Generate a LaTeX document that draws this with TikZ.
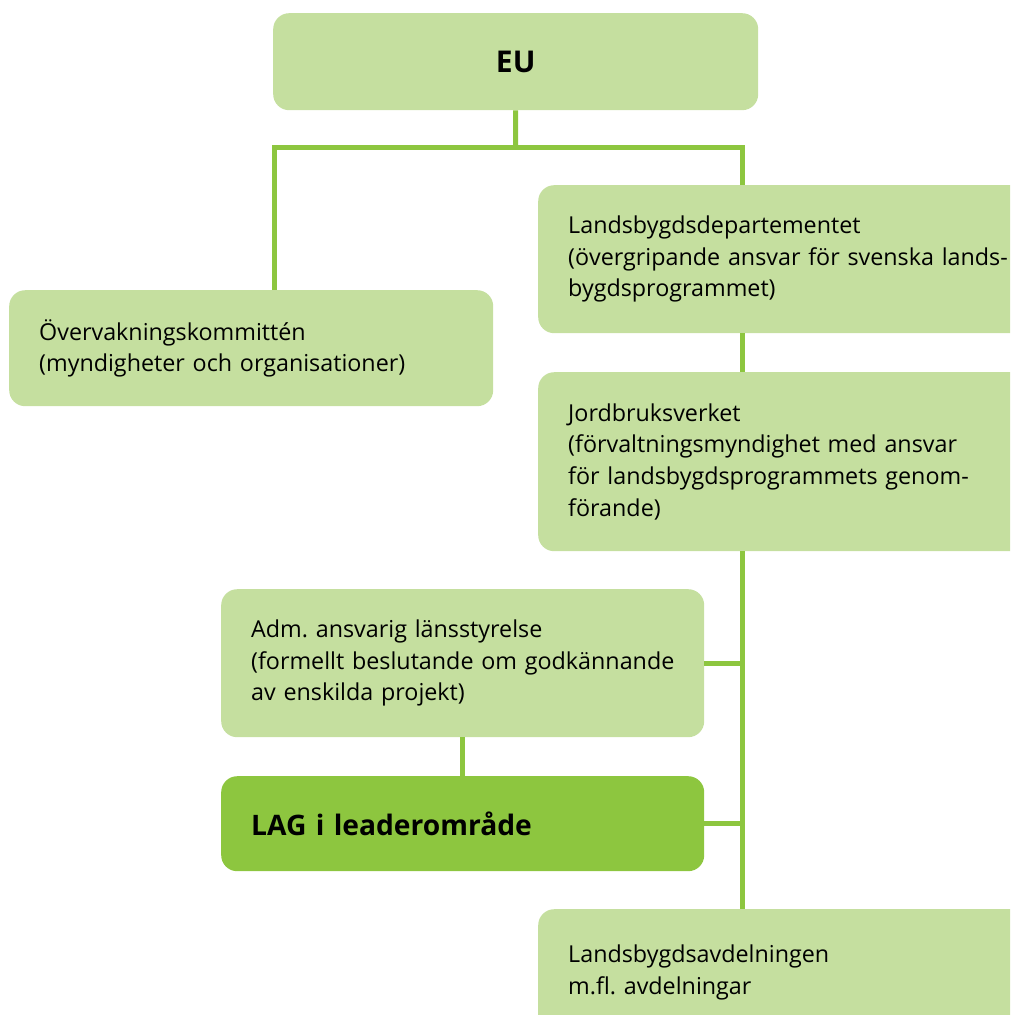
\documentclass[tikz,border=0pt]{standalone}
\usepackage{fontspec}
\setmainfont{Open Sans}
\usepackage{xcolor}
\usetikzlibrary{positioning}
\frenchspacing

\definecolor{paleleaf}{HTML}{C5DF9F}
\definecolor{leaf}{HTML}{8DC63F}

\begin{document}
\begin{tikzpicture}[
    x=1pt, y=-1pt,
    box/.style={rectangle, rounded corners=16pt, fill=paleleaf, anchor=north west,
        inner xsep=30pt, inner ysep=0pt, align=left,
        font=\fontsize{23.3}{31.6}\selectfont},
    headbox/.style={box, align=center, font=\bfseries\fontsize{30}{36}\selectfont},
    lagbox/.style={box, fill=leaf, font=\bfseries\fontsize{28.2}{34}\selectfont},
    conn/.style={draw=leaf, line width=5pt}
]
\clip (0,0) rectangle (1010,1015);

\node[headbox, text width=425pt, minimum height=97pt] (eu) at (273,13) {EU};
\node[box, text width=440pt, minimum height=148pt] (ldep) at (538,185)
    {Landsbygdsdepartementet\\\mbox{(övergripande ansvar för svenska lands-}\\bygdsprogrammet)};
\node[box, text width=424pt, minimum height=116pt] (overv) at (9,290)
    {Övervakningskommittén\\\mbox{(myndigheter och organisationer)}};
\node[box, text width=440pt, minimum height=179pt] (jbv) at (538,372)
    {Jordbruksverket\\\mbox{(förvaltningsmyndighet med ansvar}\\\mbox{för landsbygdsprogrammets genom-}\\förande)};
\node[box, text width=423pt, minimum height=148pt] (adm) at (221,589)
    {Adm. ansvarig länsstyrelse\\\mbox{(formellt beslutande om godkännande}\\av enskilda projekt)};
\node[lagbox, text width=423pt, minimum height=95pt] (lag) at (221,776)
    {LAG i leaderområde};
\node[box, text width=440pt, minimum height=126pt] (lavd) at (538,909)
    {Landsbygdsavdelningen\\m.fl. avdelningar};

\coordinate (split) at (515.5,147.5);
\coordinate (lft) at (274.5,147.5);
\coordinate (rgt) at (742.5,147.5);

\draw[conn] (eu.south) -- (split);
\draw[conn] (lft |- overv.north) -- (lft) -- (rgt) -- (rgt |- ldep.north);
\draw[conn] (rgt |- ldep.south) -- (rgt |- jbv.north);
\draw[conn] (rgt |- jbv.south) -- (rgt |- lavd.north);
\draw[conn] (adm.east) -- (adm.east -| rgt);
\draw[conn] (lag.east) -- (lag.east -| rgt);
\draw[conn] (adm.south) -- (lag.north);
\end{tikzpicture}
\end{document}
